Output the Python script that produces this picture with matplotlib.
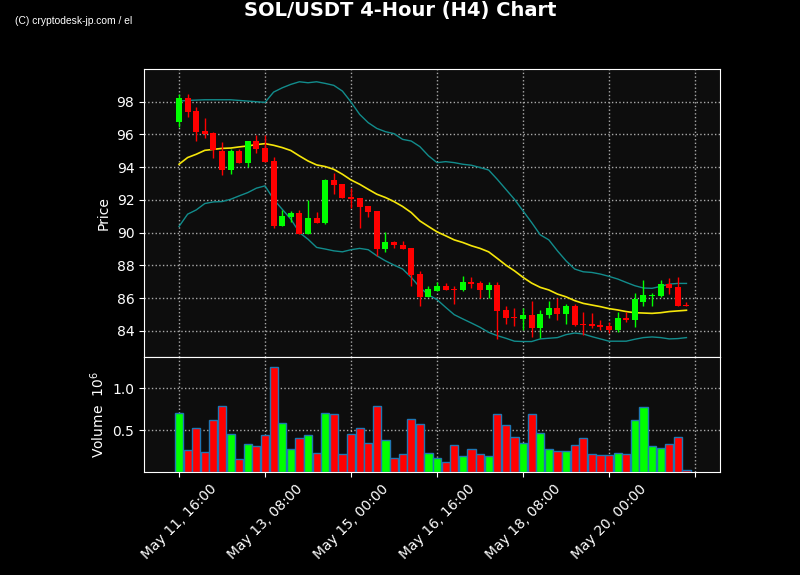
import matplotlib
matplotlib.use("Agg")
import matplotlib.pyplot as plt
import numpy as np

## Candles (4h)
opens = [96.76, 98.2, 97.41, 96.19, 96.07, 95.01, 93.83, 94.97, 94.26, 95.58,
         95.15, 94.36, 90.42, 90.97, 91.19, 89.93, 90.89, 90.6, 93.2, 92.96,
         92.17, 92.09, 91.64, 91.31, 89.02, 89.42, 89.24, 89.06, 87.47, 86.09,
         86.43, 86.72, 86.56, 86.52, 86.96, 86.9, 86.48, 86.8, 85.28, 84.85,
         84.73, 84.97, 84.2, 84.97, 85.4, 85.03, 85.52, 84.44, 84.44, 84.38,
         84.32, 84.06, 84.81, 84.69, 85.75, 86.13, 86.13, 86.86, 86.68, 85.58]
closes = [98.2, 97.37, 96.15, 96.03, 95.05, 93.83, 94.97, 94.26, 95.58, 95.09,
          94.32, 90.42, 91.0, 91.19, 89.93, 90.89, 90.6, 93.2, 92.92, 92.13,
          92.07, 91.58, 91.27, 89.02, 89.42, 89.26, 89.02, 87.43, 86.09, 86.56,
          86.72, 86.52, 86.52, 86.96, 86.86, 86.48, 86.8, 85.24, 84.81, 84.77,
          84.97, 84.2, 85.03, 85.4, 85.03, 85.52, 84.36, 84.38, 84.3, 84.24,
          84.06, 84.79, 84.69, 85.97, 86.19, 86.19, 86.86, 86.62, 85.52, 85.52]
highs = [98.49, 98.45, 97.67, 97.0, 96.17, 95.56, 95.09, 95.09, 95.58, 95.99,
         95.99, 94.65, 91.39, 91.35, 91.39, 92.02, 91.27, 93.26, 93.65, 92.96,
         92.72, 92.09, 91.64, 91.31, 90.07, 89.52, 89.48, 89.06, 87.67, 86.72,
         86.96, 86.9, 86.72, 87.33, 87.27, 87.02, 86.96, 86.96, 85.5, 85.38,
         85.38, 85.8, 85.28, 85.8, 86.0, 85.64, 85.64, 85.13, 85.07, 84.69,
         84.52, 85.13, 85.13, 86.31, 87.09, 86.31, 87.11, 87.21, 87.27, 85.74]
lows = [96.48, 97.09, 95.58, 95.78, 94.57, 93.55, 93.61, 94.26, 94.04, 94.89,
        94.32, 90.26, 90.42, 90.66, 89.93, 89.93, 90.6, 90.56, 92.35, 92.13,
        91.48, 90.26, 90.93, 88.59, 88.79, 89.06, 88.98, 86.74, 85.52, 86.09,
        86.43, 86.52, 85.64, 86.43, 86.6, 85.99, 85.99, 83.51, 84.4, 84.28,
        84.08, 83.61, 83.55, 84.81, 84.65, 84.44, 84.28, 83.77, 84.2, 84.08,
        83.87, 83.91, 84.57, 84.22, 85.54, 85.54, 86.09, 86.25, 85.52, 85.52]
volumes = [0.70, 0.26, 0.53, 0.24, 0.62, 0.79, 0.45, 0.15, 0.34, 0.31,
           0.44, 1.25, 0.59, 0.27, 0.41, 0.44, 0.23, 0.70, 0.69, 0.21,
           0.45, 0.52, 0.35, 0.79, 0.38, 0.17, 0.21, 0.63, 0.57, 0.23,
           0.17, 0.12, 0.32, 0.19, 0.28, 0.21, 0.19, 0.69, 0.56, 0.42,
           0.35, 0.69, 0.46, 0.27, 0.25, 0.25, 0.32, 0.40, 0.21, 0.20,
           0.20, 0.23, 0.21, 0.62, 0.77, 0.31, 0.29, 0.33, 0.42, 0.03]

## Bollinger lines
bb_upper = [98.04, 98.08, 98.1, 98.12, 98.12, 98.12, 98.12, 98.08, 98.04, 98.0,
            97.96, 98.59, 98.85, 99.06, 99.22, 99.16, 99.22, 99.12, 99.0, 98.65,
            97.98, 97.23, 96.72, 96.37, 96.17, 96.05, 95.7, 95.6, 95.26, 94.7,
            94.28, 94.34, 94.28, 94.18, 94.12, 93.98, 93.83, 93.26, 92.65, 92.04,
            91.33, 90.62, 89.87, 89.56, 88.89, 88.28, 87.78, 87.61, 87.57, 87.47,
            87.33, 87.17, 86.96, 86.76, 86.62, 86.6, 86.72, 86.86, 86.9, 86.9]
bb_mid = [94.18, 94.59, 94.79, 95.03, 95.09, 95.15, 95.17, 95.24, 95.3, 95.38,
          95.44, 95.34, 95.2, 95.02, 94.69, 94.38, 94.14, 94.04, 93.87, 93.57,
          93.22, 92.96, 92.65, 92.35, 92.15, 91.9, 91.6, 91.23, 90.72, 90.38,
          90.05, 89.81, 89.56, 89.4, 89.2, 89.04, 88.83, 88.43, 88.02, 87.67,
          87.27, 86.92, 86.66, 86.5, 86.25, 86.08, 85.85, 85.68, 85.58, 85.48,
          85.36, 85.28, 85.18, 85.11, 85.09, 85.07, 85.11, 85.18, 85.22, 85.26]
bb_lower = [90.38, 91.13, 91.39, 91.78, 91.88, 91.9, 92.04, 92.25, 92.45, 92.72,
            92.86, 92.04, 91.43, 90.83, 90.01, 89.6, 89.1, 89.0, 88.89, 88.83,
            88.96, 89.04, 88.96, 88.59, 88.28, 88.02, 87.78, 87.27, 86.66, 86.2,
            85.91, 85.44, 84.99, 84.73, 84.48, 84.22, 83.91, 83.71, 83.55, 83.37,
            83.35, 83.35, 83.51, 83.55, 83.59, 83.77, 83.87, 83.81, 83.65, 83.51,
            83.37, 83.37, 83.37, 83.49, 83.59, 83.63, 83.59, 83.51, 83.53, 83.59]

tick_pos = [0, 10, 20, 30, 40, 50, 60]
tick_labels = ["May 11, 16:00", "May 13, 08:00", "May 15, 00:00",
               "May 16, 16:00", "May 18, 08:00", "May 20, 00:00", ""]

x = np.arange(len(opens))
up = np.array(closes) >= np.array(opens)
cols = np.where(up, "#00ff00", "#ff0000")

fig = plt.figure(figsize=(8, 5.75), dpi=100, facecolor="black")
ax = fig.add_axes([0.18, 0.379, 0.72, 0.501])
axv = fig.add_axes([0.18, 0.179, 0.72, 0.2], sharex=ax)

for a in (ax, axv):
    a.set_facecolor("#0d0d0d")
    for s in a.spines.values():
        s.set_color("white")
    a.tick_params(colors="white", labelsize=10)
    a.grid(True, color="#aaaaaa", linestyle=":", linewidth=1)
    a.set_axisbelow(True)

# candles
ax.vlines(x, lows, highs, color=cols, linewidth=1, zorder=3)
body_bot = np.minimum(opens, closes)
body_h = np.maximum(np.abs(np.array(closes) - np.array(opens)), 0.05)
ax.bar(x, body_h, bottom=body_bot, width=0.7, color=cols, zorder=4)

ax.plot(x, bb_upper, color="#128c8c", linewidth=1, zorder=2)
ax.plot(x, bb_lower, color="#128c8c", linewidth=1, zorder=2)
ax.plot(x, bb_mid, color="#f5e60a", linewidth=1.2, zorder=2)

ax.set_ylim(82.4, 100.0)
ax.set_yticks(range(84, 99, 2))
ax.set_ylabel("Price", color="white", fontsize=10)
ax.tick_params(axis="x", labelbottom=False, length=0)

axv.bar(x, volumes, width=0.95, color=cols, edgecolor="#1f77b4", linewidth=1, zorder=3)
axv.set_ylim(0, 1.37)
axv.set_yticks([0.5, 1.0])
axv.set_ylabel(r"Volume  $10^6$", color="white", fontsize=10)

axv.set_xlim(-4.07, 62.9)
axv.set_xticks(tick_pos)
axv.set_xticklabels(tick_labels, rotation=45)

fig.suptitle("SOL/USDT 4-Hour (H4) Chart", color="white", fontsize=14,
             fontweight="bold", x=0.5, y=0.982, va="center")
fig.text(0.019, 0.964, "(C) cryptodesk-jp.com / el", color="white", fontsize=7.4,
         family="Liberation Sans", va="center", ha="left")

plt.savefig("out.png", dpi=100, facecolor="black")
